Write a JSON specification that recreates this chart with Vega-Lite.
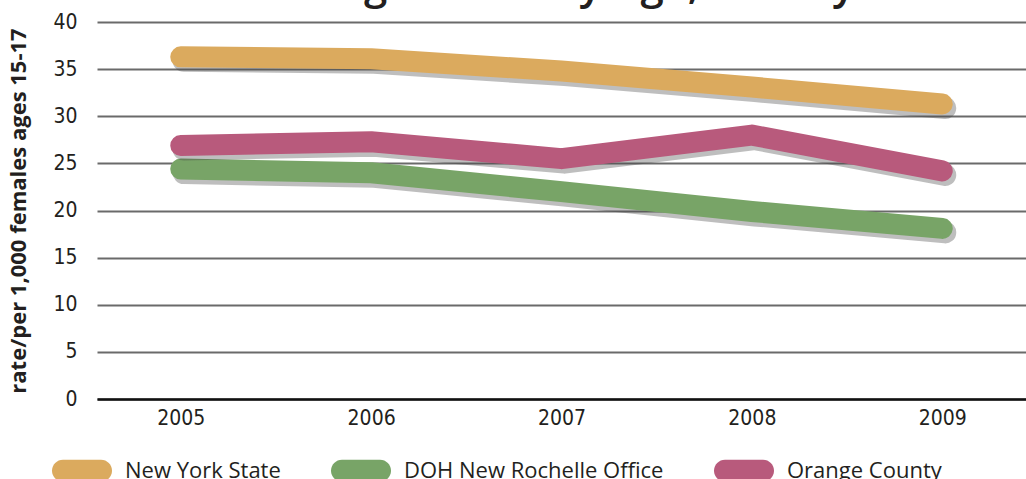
{
  "$schema": "https://vega.github.io/schema/vega-lite/v6.json",
  "width": 929,
  "height": 377,
  "autosize": {"type": "none"},
  "padding": {"left": 97, "top": 22, "right": 0, "bottom": 80},
  "background": "white",
  "title": {
    "text": "Teen Pregnancies by Age, County",
    "font": "Open Sans",
    "fontSize": 42,
    "fontWeight": 600,
    "color": "#231F20",
    "baseline": "alphabetic",
    "anchor": "middle",
    "offset": 0,
    "dy": 30,
    "dx": -41
  },
  "data": {
    "values": [
      {"year": "2005", "series": "New York State", "rate": 36.3},
      {"year": "2006", "series": "New York State", "rate": 36.1},
      {"year": "2007", "series": "New York State", "rate": 34.8},
      {"year": "2008", "series": "New York State", "rate": 33.1},
      {"year": "2009", "series": "New York State", "rate": 31.3},
      {"year": "2005", "series": "DOH New Rochelle Office", "rate": 24.4},
      {"year": "2006", "series": "DOH New Rochelle Office", "rate": 24.0},
      {"year": "2007", "series": "DOH New Rochelle Office", "rate": 22.0},
      {"year": "2008", "series": "DOH New Rochelle Office", "rate": 19.9},
      {"year": "2009", "series": "DOH New Rochelle Office", "rate": 18.1},
      {"year": "2005", "series": "Orange County", "rate": 26.9},
      {"year": "2006", "series": "Orange County", "rate": 27.3},
      {"year": "2007", "series": "Orange County", "rate": 25.5},
      {"year": "2008", "series": "Orange County", "rate": 28.0},
      {"year": "2009", "series": "Orange County", "rate": 24.2}
    ]
  },
  "encoding": {
    "x": {
      "field": "year",
      "type": "ordinal",
      "scale": {"type": "point", "padding": 0.44},
      "axis": {
        "title": null,
        "labelAngle": 0,
        "labelFont": "DejaVu Sans Condensed",
        "labelFontSize": 21,
        "labelColor": "#231F20",
        "labelPadding": 8,
        "ticks": false,
        "domainColor": "#111111",
        "domainWidth": 2.5,
        "grid": false
      }
    },
    "y": {
      "field": "rate",
      "type": "quantitative",
      "scale": {"domain": [0, 40], "nice": false},
      "axis": {
        "title": "rate/per 1,000 females ages 15-17",
        "titleFont": "Open Sans",
        "titleFontSize": 22,
        "titleFontWeight": "bold",
        "titleColor": "#231F20",
        "titlePadding": 22,
        "values": [0, 5, 10, 15, 20, 25, 30, 35, 40],
        "labelFont": "DejaVu Sans Condensed",
        "labelFontSize": 21,
        "labelColor": "#231F20",
        "labelPadding": 20,
        "ticks": false,
        "domain": false,
        "grid": true,
        "gridColor": "#6a6a6a",
        "gridWidth": 2
      }
    }
  },
  "layer": [
    {
      "mark": {"type": "point", "filled": true, "opacity": 0, "size": 5329, "shape": "circle"},
      "encoding": {
        "fill": {
          "field": "series",
          "type": "nominal",
          "scale": {
            "domain": ["New York State", "DOH New Rochelle Office", "Orange County"],
            "range": ["#DBAA5E", "#78A467", "#B85A7C"]
          },
          "legend": {
            "title": null,
            "orient": "none",
            "direction": "horizontal",
            "legendX": -45,
            "legendY": 412,
            "symbolType": "M -0.699 -0.301 L 0.343 -0.301 A 0.301 0.301 0 0 1 0.343 0.301 L -0.699 0.301 A 0.301 0.301 0 0 1 -0.699 -0.301 Z",
            "symbolSize": 5329,
            "symbolOpacity": 1,
            "symbolStrokeWidth": 0,
            "labelFont": "Open Sans",
            "labelFontSize": 22,
            "labelColor": "#231F20",
            "labelOffset": 0,
            "labelLimit": 500,
            "columnPadding": 50
          }
        }
      }
    },
    {
      "transform": [{"filter": "datum.series === 'New York State'"}],
      "mark": {"type": "line", "color": "#444444", "opacity": 0.35, "strokeWidth": 22, "strokeCap": "round", "strokeJoin": "round", "xOffset": 3, "yOffset": 4}
    },
    {
      "transform": [{"filter": "datum.series === 'New York State'"}],
      "mark": {"type": "line", "strokeWidth": 21, "strokeCap": "round", "strokeJoin": "round", "opacity": 1},
      "encoding": {
        "color": {
          "field": "series",
          "type": "nominal",
          "scale": {
            "domain": ["New York State", "DOH New Rochelle Office", "Orange County"],
            "range": ["#DBAA5E", "#78A467", "#B85A7C"]
          },
          "legend": null
        }
      }
    },
    {
      "transform": [{"filter": "datum.series === 'DOH New Rochelle Office'"}],
      "mark": {"type": "line", "color": "#444444", "opacity": 0.35, "strokeWidth": 22, "strokeCap": "round", "strokeJoin": "round", "xOffset": 3, "yOffset": 4}
    },
    {
      "transform": [{"filter": "datum.series === 'DOH New Rochelle Office'"}],
      "mark": {"type": "line", "strokeWidth": 21, "strokeCap": "round", "strokeJoin": "round", "opacity": 1},
      "encoding": {"color": {"field": "series", "type": "nominal", "legend": null}}
    },
    {
      "transform": [{"filter": "datum.series === 'Orange County'"}],
      "mark": {"type": "line", "color": "#444444", "opacity": 0.35, "strokeWidth": 22, "strokeCap": "round", "strokeJoin": "round", "xOffset": 3, "yOffset": 4}
    },
    {
      "transform": [{"filter": "datum.series === 'Orange County'"}],
      "mark": {"type": "line", "strokeWidth": 21, "strokeCap": "round", "strokeJoin": "round", "opacity": 1},
      "encoding": {"color": {"field": "series", "type": "nominal", "legend": null}}
    }
  ],
  "config": {"view": {"stroke": null}}
}
